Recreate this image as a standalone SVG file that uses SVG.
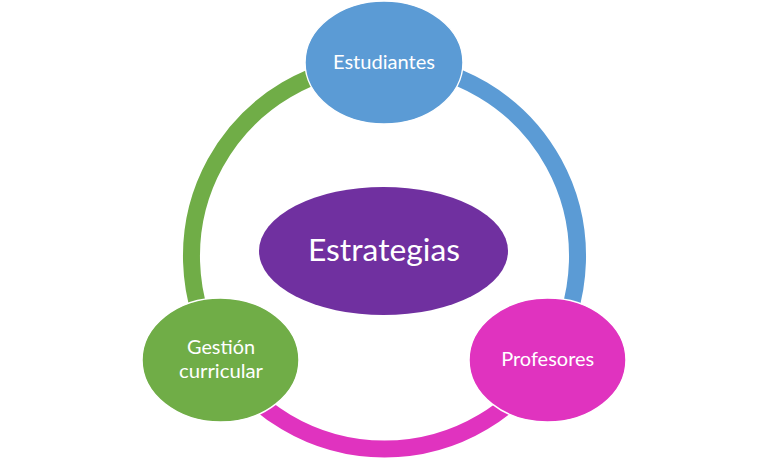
<svg xmlns="http://www.w3.org/2000/svg" width="768" height="470" viewBox="0 0 768 470">
<style>
.arc{fill:none;stroke-width:17}
.node{stroke:#ffffff;stroke-width:1.5}
.lbl{font-family:Lato,"Noto Sans","Open Sans",sans-serif;fill:#ffffff;text-anchor:middle;font-size:19.5px}
</style>
<rect width="768" height="470" fill="#ffffff"/>
<g id="connectors">
<path class="arc" stroke="#5B9BD5" d="M 384.5 63 A 193 193 0 0 1 547.3 359.7"/>
<path class="arc" stroke="#E033BF" d="M 547.3 359.7 A 193 193 0 0 1 221.7 359.7"/>
<path class="arc" stroke="#70AD47" d="M 221.7 359.7 A 193 193 0 0 1 384.5 63"/>
</g>
<g id="estrategias">
<ellipse cx="383.5" cy="251" rx="124.5" ry="64" fill="#7030A0"/>
<text class="lbl" x="384" y="261" textLength="152" lengthAdjust="spacingAndGlyphs" style="font-size:31px">Estrategias</text>
</g>
<g id="estudiantes">
<ellipse class="node" cx="384" cy="62.5" rx="79" ry="61.5" fill="#5B9BD5"/>
<text class="lbl" x="384" y="69" textLength="102" lengthAdjust="spacingAndGlyphs">Estudiantes</text>
</g>
<g id="profesores">
<ellipse class="node" cx="547.5" cy="360" rx="78.5" ry="62" fill="#E033BF"/>
<text class="lbl" x="547.7" y="366" textLength="93" lengthAdjust="spacingAndGlyphs">Profesores</text>
</g>
<g id="gestion">
<ellipse class="node" cx="220.5" cy="360" rx="78.5" ry="62" fill="#70AD47"/>
<text class="lbl" x="221" y="354" textLength="68" lengthAdjust="spacingAndGlyphs">Gestión</text>
<text class="lbl" x="221" y="378" textLength="84" lengthAdjust="spacingAndGlyphs">curricular</text>
</g>
</svg>
